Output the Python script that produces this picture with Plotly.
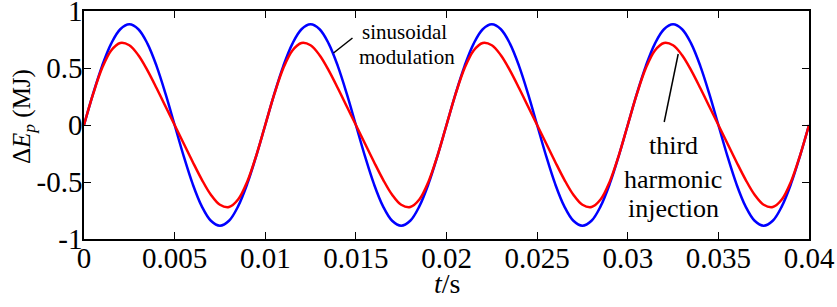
import plotly.graph_objects as go

# time axis (s)
t = [0.0, 0.0005, 0.001, 0.0015, 0.002, 0.0025, 0.003, 0.0035, 0.004, 0.0045,
     0.005, 0.0055, 0.006, 0.0065, 0.007, 0.0075, 0.008, 0.0085, 0.009, 0.0095,
     0.01, 0.0105, 0.011, 0.0115, 0.012, 0.0125, 0.013, 0.0135, 0.014, 0.0145,
     0.015, 0.0155, 0.016, 0.0165, 0.017, 0.0175, 0.018, 0.0185, 0.019, 0.0195,
     0.02, 0.0205, 0.021, 0.0215, 0.022, 0.0225, 0.023, 0.0235, 0.024, 0.0245,
     0.025, 0.0255, 0.026, 0.0265, 0.027, 0.0275, 0.028, 0.0285, 0.029, 0.0295,
     0.03, 0.0305, 0.031, 0.0315, 0.032, 0.0325, 0.033, 0.0335, 0.034, 0.0345,
     0.035, 0.0355, 0.036, 0.0365, 0.037, 0.0375, 0.038, 0.0385, 0.039, 0.0395,
     0.04]

# sinusoidal modulation (blue), MJ
sinusoidal = [0, 0.273, 0.519, 0.714, 0.840, 0.883, 0.840, 0.714, 0.519, 0.273,
              0, -0.273, -0.519, -0.714, -0.840, -0.883, -0.840, -0.714, -0.519, -0.273,
              0, 0.273, 0.519, 0.714, 0.840, 0.883, 0.840, 0.714, 0.519, 0.273,
              0, -0.273, -0.519, -0.714, -0.840, -0.883, -0.840, -0.714, -0.519, -0.273,
              0, 0.273, 0.519, 0.714, 0.840, 0.883, 0.840, 0.714, 0.519, 0.273,
              0, -0.273, -0.519, -0.714, -0.840, -0.883, -0.840, -0.714, -0.519, -0.273,
              0, 0.273, 0.519, 0.714, 0.840, 0.883, 0.840, 0.714, 0.519, 0.273,
              0, -0.273, -0.519, -0.714, -0.840, -0.883, -0.840, -0.714, -0.519, -0.273,
              0]

# third harmonic injection (red), MJ
third_harmonic = [0, 0.270, 0.499, 0.654, 0.720, 0.700, 0.612, 0.479, 0.324, 0.162,
                  0, -0.162, -0.324, -0.479, -0.612, -0.700, -0.720, -0.654, -0.499, -0.270,
                  0, 0.270, 0.499, 0.654, 0.720, 0.700, 0.612, 0.479, 0.324, 0.162,
                  0, -0.162, -0.324, -0.479, -0.612, -0.700, -0.720, -0.654, -0.499, -0.270,
                  0, 0.270, 0.499, 0.654, 0.720, 0.700, 0.612, 0.479, 0.324, 0.162,
                  0, -0.162, -0.324, -0.479, -0.612, -0.700, -0.720, -0.654, -0.499, -0.270,
                  0, 0.270, 0.499, 0.654, 0.720, 0.700, 0.612, 0.479, 0.324, 0.162,
                  0, -0.162, -0.324, -0.479, -0.612, -0.700, -0.720, -0.654, -0.499, -0.270,
                  0]

x_tickvals = [0, 0.005, 0.01, 0.015, 0.02, 0.025, 0.03, 0.035, 0.04]
x_ticktext = ["0", "0.005", "0.01", "0.015", "0.02", "0.025", "0.03", "0.035", "0.04"]
y_tickvals = [-1, -0.5, 0, 0.5, 1]
y_ticktext = ["-1", "-0.5", "0", "0.5", "1"]

FONT = "Liberation Serif"

fig = go.Figure()
fig.add_trace(go.Scatter(x=t, y=sinusoidal, mode="lines", name="sinusoidal modulation",
                         line=dict(color="#0000FF", width=2.5, shape="spline", smoothing=1.0)))
fig.add_trace(go.Scatter(x=t, y=third_harmonic, mode="lines", name="third harmonic injection",
                         line=dict(color="#FF0000", width=2.5, shape="spline", smoothing=1.0)))

axis_common = dict(showline=True, linecolor="black", linewidth=1.5, mirror="ticks",
                   ticks="inside", ticklen=7, tickwidth=1, tickcolor="black",
                   showgrid=False, zeroline=False, automargin=False,
                   ticklabeloverflow="allow",
                   tickfont=dict(family=FONT, size=29, color="black"))

fig.update_xaxes(range=[0, 0.04], tickvals=x_tickvals, ticktext=x_ticktext,
                 ticklabelstandoff=-8, **axis_common)
fig.update_yaxes(range=[-1, 1], tickvals=y_tickvals, ticktext=y_ticktext,
                 ticklabelstandoff=-6, **axis_common)

# axis titles (placed as annotations for exact positioning)
fig.add_annotation(xref="paper", yref="paper", x=0.5, y=-0.197, showarrow=False,
                   xanchor="center", yanchor="middle", text="<i>t</i>/s",
                   font=dict(family=FONT, size=28, color="black"))
fig.add_annotation(xref="paper", yref="paper", x=-0.0841, y=0.535, showarrow=False,
                   xanchor="center", yanchor="middle", textangle=-90,
                   text="Δ<i>E</i><sub><i>p</i></sub> (MJ)",
                   font=dict(family=FONT, size=25, color="black"))

ann_font_small = dict(family=FONT, size=21, color="black")
ann_font_big = dict(family=FONT, size=26, color="black")
annotations = [
    dict(x=0.01766, y=0.82, text="sinusoidal", font=ann_font_small),
    dict(x=0.01780, y=0.60, text="modulation", font=ann_font_small),
    dict(x=0.03251, y=-0.18, text="third", font=ann_font_big),
    dict(x=0.03251, y=-0.48, text="harmonic", font=ann_font_big),
    dict(x=0.03251, y=-0.73, text="injection", font=ann_font_big),
]
for a in annotations:
    fig.add_annotation(xref="x", yref="y", showarrow=False, xanchor="center",
                       yanchor="middle", **a)

fig.add_shape(type="line", xref="x", yref="y", x0=0.013765, y0=0.6316, x1=0.014813, y1=0.7632,
              line=dict(color="black", width=1.5))
fig.add_shape(type="line", xref="x", yref="y", x0=0.032012, y0=0.0263, x1=0.032784, y1=0.6228,
              line=dict(color="black", width=1.5))

fig.update_layout(width=837, height=307, margin=dict(l=84, r=28, t=11, b=68),
                  plot_bgcolor="white", paper_bgcolor="white", showlegend=False,
                  font=dict(family=FONT, color="black"))

fig.write_html("out.html", config={"displayModeBar": False},
               post_script="document.body.style.margin='0px';document.body.style.overflow='hidden';")
